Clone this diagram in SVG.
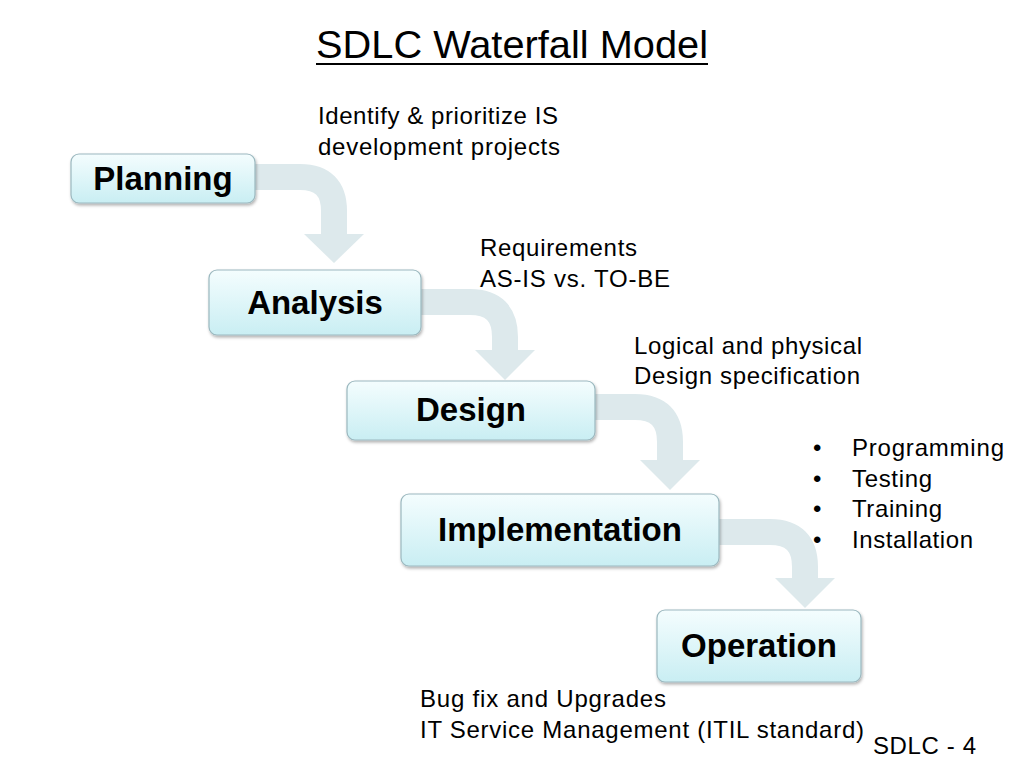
<svg xmlns="http://www.w3.org/2000/svg" width="1024" height="768" viewBox="0 0 1024 768">
<defs>
<linearGradient id="g" x1="0" y1="0" x2="0" y2="1"><stop offset="0" stop-color="#f4fdfe"/><stop offset="1" stop-color="#c9eef3"/></linearGradient>
<filter id="s" x="-10%" y="-10%" width="130%" height="140%"><feDropShadow dx="1" dy="2" stdDeviation="1.5" flood-color="#000" flood-opacity="0.3"/></filter>
</defs>
<style>
.box{fill:url(#g);stroke:#9bb8bf;stroke-width:1.2;filter:url(#s)}
.lbl{font-family:"Liberation Sans",Arial,sans-serif;font-weight:bold;font-size:33px;fill:#000;text-anchor:middle}
.t{font-family:"Liberation Sans",Arial,sans-serif;font-size:24px;fill:#000}
.band{fill:none;stroke:#dde9ec;stroke-width:26}
.head{fill:#dde9ec}
</style>
<rect width="1024" height="768" fill="#fff"/>
<text x="316" y="58" class="t" style="font-size:39px" textLength="392" lengthAdjust="spacingAndGlyphs">SDLC Waterfall Model</text>
<line x1="316" y1="64" x2="708" y2="64" stroke="#000" stroke-width="2"/>
<g id="connectors">
<path class="band" d="M250 177 H300 Q334 177 334 211 V238"/><polygon class="head" points="304,234 364,234 334,263"/>
<path class="band" d="M416 302 H470 Q505 302 505 337 V352"/><polygon class="head" points="475,350 535,350 505,380"/>
<path class="band" d="M590 407 H635 Q670 407 670 442 V462"/><polygon class="head" points="640,460 700,460 670,490"/>
<path class="band" d="M714 532 H770 Q805 532 805 567 V580"/><polygon class="head" points="775,578 835,578 805,608"/>
</g>
<g id="planning"><rect class="box" x="71" y="154" width="184" height="49" rx="8"/><text class="lbl" x="163" y="190">Planning</text></g>
<g id="analysis"><rect class="box" x="209" y="270" width="212" height="65" rx="8"/><text class="lbl" x="315" y="314">Analysis</text></g>
<g id="design"><rect class="box" x="347" y="381" width="248" height="59" rx="8"/><text class="lbl" x="471" y="421">Design</text></g>
<g id="implementation"><rect class="box" x="401" y="494" width="318" height="72" rx="8"/><text class="lbl" x="560" y="541">Implementation</text></g>
<g id="operation"><rect class="box" x="657" y="610" width="204" height="72" rx="8"/><text class="lbl" x="759" y="657">Operation</text></g>
<g id="notes">
<text class="t" x="318" y="124" textLength="240">Identify &amp; prioritize IS</text>
<text class="t" x="318" y="155" textLength="242">development projects</text>
<text class="t" x="480" y="256" textLength="157">Requirements</text>
<text class="t" x="480" y="287" textLength="190">AS-IS vs. TO-BE</text>
<text class="t" x="634" y="354" textLength="228">Logical and physical</text>
<text class="t" x="634" y="384" textLength="226">Design specification</text>
<text class="t" x="813" y="456">•</text><text class="t" x="852" y="456" textLength="152">Programming</text>
<text class="t" x="813" y="487">•</text><text class="t" x="852" y="487" textLength="80">Testing</text>
<text class="t" x="813" y="517">•</text><text class="t" x="852" y="517" textLength="90">Training</text>
<text class="t" x="813" y="548">•</text><text class="t" x="852" y="548" textLength="121">Installation</text>
<text class="t" x="420" y="707" textLength="246">Bug fix and Upgrades</text>
<text class="t" x="420" y="738" textLength="444">IT Service Management (ITIL standard)</text>
<text class="t" x="873" y="754" textLength="103">SDLC - 4</text>
</g>
</svg>
